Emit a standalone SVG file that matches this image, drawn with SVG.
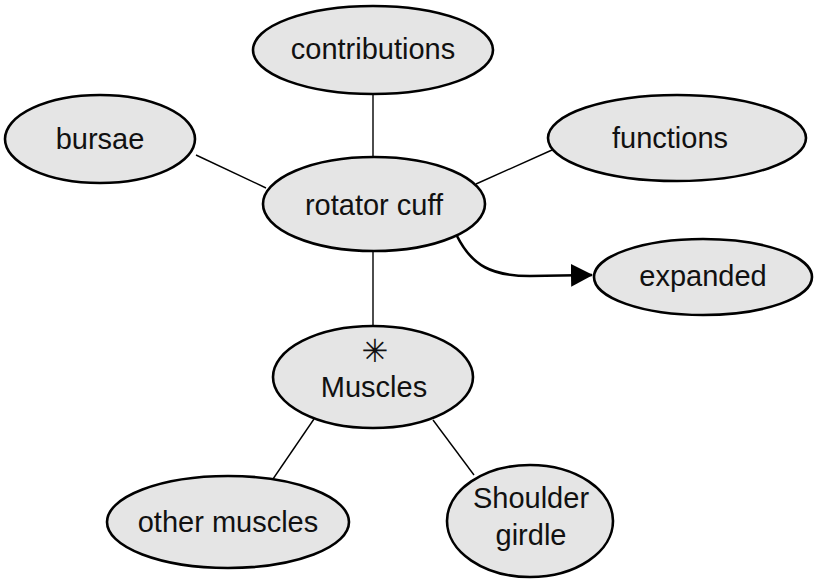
<svg xmlns="http://www.w3.org/2000/svg" width="817" height="581" viewBox="0 0 817 581">
<defs>
<style>
.n ellipse{fill:#e5e5e5;stroke:#000;stroke-width:2.6}
.n text{font-family:"Liberation Sans",Arial,sans-serif;font-size:29px;fill:#111;text-anchor:middle}
.n text.sym{font-family:"DejaVu Sans",sans-serif;font-size:32px}
.c line{stroke:#000;stroke-width:1.4}
.c path{stroke:#000;stroke-width:2.6;fill:none}
</style>
<marker id="ah" markerWidth="22" markerHeight="23" refX="21" refY="11.5" orient="auto" markerUnits="userSpaceOnUse">
<path d="M0,0 L22,11.5 L0,23 Z" fill="#000"/>
</marker>
</defs>
<rect width="817" height="581" fill="#fff"/>
<g id="connectors" class="c">
<line x1="373" y1="95" x2="373" y2="157"/>
<line x1="196" y1="155" x2="266" y2="188"/>
<line x1="552" y1="150" x2="476" y2="184"/>
<line x1="373" y1="250" x2="373" y2="326"/>
<line x1="314" y1="419" x2="273" y2="479"/>
<line x1="433" y1="420" x2="474" y2="475"/>
<path d="M457,236 C472,266 492,276 530,276 L592,275" marker-end="url(#ah)"/>
</g>
<g id="contributions" class="n"><ellipse cx="373" cy="50" rx="120" ry="44"/><text x="373" y="59">contributions</text></g>
<g id="bursae" class="n"><ellipse cx="100" cy="139" rx="95" ry="44"/><text x="100" y="149">bursae</text></g>
<g id="functions" class="n"><ellipse cx="677" cy="138" rx="129" ry="43"/><text x="670" y="148">functions</text></g>
<g id="rotator-cuff" class="n"><ellipse cx="374" cy="204" rx="111" ry="47"/><text x="374" y="215">rotator cuff</text></g>
<g id="expanded" class="n"><ellipse cx="703" cy="277" rx="109" ry="38"/><text x="703" y="286">expanded</text></g>
<g id="muscles" class="n"><ellipse cx="373" cy="377" rx="100" ry="51"/><text class="sym" x="375" y="362">✳</text><text x="374" y="397">Muscles</text></g>
<g id="other-muscles" class="n"><ellipse cx="228" cy="522" rx="121" ry="46"/><text x="228" y="532">other muscles</text></g>
<g id="shoulder-girdle" class="n"><ellipse cx="530" cy="521" rx="83" ry="56"/><text x="531" y="508">Shoulder</text><text x="531" y="545">girdle</text></g>
</svg>
